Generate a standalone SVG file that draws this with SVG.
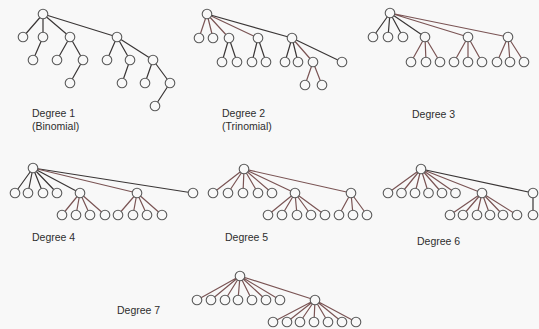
<svg xmlns="http://www.w3.org/2000/svg" width="539" height="329" viewBox="0 0 539 329">
<style>
.k{stroke:#3a3636;stroke-width:1.2;fill:none}
.r{stroke:#7a5454;stroke-width:1.2;fill:none}
circle{fill:#f8f8f8;stroke:#5a5a5a;stroke-width:1.1}
text{font-family:"Liberation Sans",Arial,sans-serif;font-size:10.5px;fill:#2e2e2e}
</style>
<rect width="539" height="329" fill="#f8f8f8"/>
<g id="connectors">
<!-- Degree 1 -->
<path class="k" d="M43,14L23,37M43,14L43,37M43,14L70,37M43,14L117,37M43,37L33,60M70,37L57,60M70,37L83,60M83,60L70,83M117,37L107,60M117,37L130,60M117,37L153,60M130,60L122,83M153,60L145,83M153,60L170,83M170,83L155,106"/>
<!-- Degree 2 -->
<path class="r" d="M207,14L199,38M207,14L213,38M207,14L229,38M207,14L258,38"/>
<path class="k" d="M207,14L292,38M229,38L222,62M229,38L237,62M258,38L252,62M258,38L266,62M292,38L285,62M292,38L298,62M292,38L342,62"/>
<path class="r" d="M292,38L313,62M313,62L305,85M313,62L322,85"/>
<!-- Degree 3 -->
<path class="k" d="M390,13L373,37M390,13L388,37M390,13L403,37M390,13L425,37"/>
<path class="r" d="M390,13L468,37M390,13L508,37M425,37L411,62M425,37L426,62M425,37L440,62M468,37L454,62M468,37L468,62M468,37L482,62M508,37L497,62M508,37L510,62M508,37L524,62"/>
<!-- Degree 4 -->
<path class="k" d="M33,168L15,193M33,168L28,193M33,168L43,193M33,168L57,193M33,168L80,193M33,168L193,193"/>
<path class="r" d="M33,168L137,193M80,193L62,215M80,193L76,215M80,193L90,215M80,193L105,215M137,193L118,215M137,193L133,215M137,193L147,215M137,193L162,215"/>
<!-- Degree 5 -->
<path class="r" d="M244,169L213,193M244,169L228,193M244,169L243,193M244,169L258,193M244,169L272,193M244,169L295,193M244,169L351,193M295,193L268,215M295,193L282,215M295,193L297,215M295,193L311,215M295,193L325,215M351,193L339,215M351,193L353,215M351,193L367,215"/>
<!-- Degree 6 -->
<path class="r" d="M421,169L388,193M421,169L401.5,193M421,169L415,193M421,169L428.5,193M421,169L442,193M421,169L455.5,193M421,169L482,193M482,193L450,215M482,193L463,215M482,193L477,215M482,193L490,215M482,193L503,215M482,193L517,215"/>
<path class="k" d="M421,169L533,193M533,193L533,215"/>
<!-- Degree 7 -->
<path class="r" d="M240,276L197,300M240,276L211,300M240,276L225,300M240,276L238,300M240,276L252,300M240,276L266,300M240,276L280,300M240,276L315,300M315,300L273,322M315,300L287,322M315,300L300,322M315,300L314,322M315,300L328,322M315,300L342,322M315,300L356,322"/>
</g>
<g id="d1-root"><circle cx="43" cy="14" r="4.8"/></g>
<g id="d1-a"><circle cx="23" cy="37" r="4.8"/></g>
<g id="d1-b"><circle cx="43" cy="37" r="4.8"/></g>
<g id="d1-c"><circle cx="70" cy="37" r="4.8"/></g>
<g id="d1-d"><circle cx="117" cy="37" r="4.8"/></g>
<g id="d1-b1"><circle cx="33" cy="60" r="4.8"/></g>
<g id="d1-c1"><circle cx="57" cy="60" r="4.8"/></g>
<g id="d1-c2"><circle cx="83" cy="60" r="4.8"/></g>
<g id="d1-c2a"><circle cx="70" cy="83" r="4.8"/></g>
<g id="d1-d1"><circle cx="107" cy="60" r="4.8"/></g>
<g id="d1-d2"><circle cx="130" cy="60" r="4.8"/></g>
<g id="d1-d3"><circle cx="153" cy="60" r="4.8"/></g>
<g id="d1-d2a"><circle cx="122" cy="83" r="4.8"/></g>
<g id="d1-d3a"><circle cx="145" cy="83" r="4.8"/></g>
<g id="d1-d3b"><circle cx="170" cy="83" r="4.8"/></g>
<g id="d1-d3b1"><circle cx="155" cy="106" r="4.8"/></g>
<g id="d1-label"><text x="32" y="117">Degree 1</text><text x="32" y="130">(Binomial)</text></g>

<g id="d2-root"><circle cx="207" cy="14" r="4.8"/></g>
<g id="d2-a"><circle cx="199" cy="38" r="4.8"/></g>
<g id="d2-b"><circle cx="213" cy="38" r="4.8"/></g>
<g id="d2-c"><circle cx="229" cy="38" r="4.8"/></g>
<g id="d2-d"><circle cx="258" cy="38" r="4.8"/></g>
<g id="d2-e"><circle cx="292" cy="38" r="4.8"/></g>
<g id="d2-c1"><circle cx="222" cy="62" r="4.8"/></g>
<g id="d2-c2"><circle cx="237" cy="62" r="4.8"/></g>
<g id="d2-d1"><circle cx="252" cy="62" r="4.8"/></g>
<g id="d2-d2"><circle cx="266" cy="62" r="4.8"/></g>
<g id="d2-e1"><circle cx="285" cy="62" r="4.8"/></g>
<g id="d2-e2"><circle cx="298" cy="62" r="4.8"/></g>
<g id="d2-e3"><circle cx="313" cy="62" r="4.8"/></g>
<g id="d2-e4"><circle cx="342" cy="62" r="4.8"/></g>
<g id="d2-e3a"><circle cx="305" cy="85" r="4.8"/></g>
<g id="d2-e3b"><circle cx="322" cy="85" r="4.8"/></g>
<g id="d2-label"><text x="222" y="117">Degree 2</text><text x="222" y="130">(Trinomial)</text></g>

<g id="d3-root"><circle cx="390" cy="13" r="4.8"/></g>
<g id="d3-a"><circle cx="373" cy="37" r="4.8"/></g>
<g id="d3-b"><circle cx="388" cy="37" r="4.8"/></g>
<g id="d3-c"><circle cx="403" cy="37" r="4.8"/></g>
<g id="d3-d"><circle cx="425" cy="37" r="4.8"/></g>
<g id="d3-e"><circle cx="468" cy="37" r="4.8"/></g>
<g id="d3-f"><circle cx="508" cy="37" r="4.8"/></g>
<g id="d3-d1"><circle cx="411" cy="62" r="4.8"/></g>
<g id="d3-d2"><circle cx="426" cy="62" r="4.8"/></g>
<g id="d3-d3"><circle cx="440" cy="62" r="4.8"/></g>
<g id="d3-e1"><circle cx="454" cy="62" r="4.8"/></g>
<g id="d3-e2"><circle cx="468" cy="62" r="4.8"/></g>
<g id="d3-e3"><circle cx="482" cy="62" r="4.8"/></g>
<g id="d3-f1"><circle cx="497" cy="62" r="4.8"/></g>
<g id="d3-f2"><circle cx="510" cy="62" r="4.8"/></g>
<g id="d3-f3"><circle cx="524" cy="62" r="4.8"/></g>
<g id="d3-label"><text x="412" y="118">Degree 3</text></g>

<g id="d4-root"><circle cx="33" cy="168" r="4.8"/></g>
<g id="d4-a"><circle cx="15" cy="193" r="4.8"/></g>
<g id="d4-b"><circle cx="28" cy="193" r="4.8"/></g>
<g id="d4-c"><circle cx="43" cy="193" r="4.8"/></g>
<g id="d4-d"><circle cx="57" cy="193" r="4.8"/></g>
<g id="d4-e"><circle cx="80" cy="193" r="4.8"/></g>
<g id="d4-f"><circle cx="137" cy="193" r="4.8"/></g>
<g id="d4-g"><circle cx="193" cy="193" r="4.8"/></g>
<g id="d4-e1"><circle cx="62" cy="215" r="4.8"/></g>
<g id="d4-e2"><circle cx="76" cy="215" r="4.8"/></g>
<g id="d4-e3"><circle cx="90" cy="215" r="4.8"/></g>
<g id="d4-e4"><circle cx="105" cy="215" r="4.8"/></g>
<g id="d4-f1"><circle cx="118" cy="215" r="4.8"/></g>
<g id="d4-f2"><circle cx="133" cy="215" r="4.8"/></g>
<g id="d4-f3"><circle cx="147" cy="215" r="4.8"/></g>
<g id="d4-f4"><circle cx="162" cy="215" r="4.8"/></g>
<g id="d4-label"><text x="32" y="241">Degree 4</text></g>

<g id="d5-root"><circle cx="244" cy="169" r="4.8"/></g>
<g id="d5-a"><circle cx="213" cy="193" r="4.8"/></g>
<g id="d5-b"><circle cx="228" cy="193" r="4.8"/></g>
<g id="d5-c"><circle cx="243" cy="193" r="4.8"/></g>
<g id="d5-d"><circle cx="258" cy="193" r="4.8"/></g>
<g id="d5-e"><circle cx="272" cy="193" r="4.8"/></g>
<g id="d5-f"><circle cx="295" cy="193" r="4.8"/></g>
<g id="d5-g"><circle cx="351" cy="193" r="4.8"/></g>
<g id="d5-f1"><circle cx="268" cy="215" r="4.8"/></g>
<g id="d5-f2"><circle cx="282" cy="215" r="4.8"/></g>
<g id="d5-f3"><circle cx="297" cy="215" r="4.8"/></g>
<g id="d5-f4"><circle cx="311" cy="215" r="4.8"/></g>
<g id="d5-f5"><circle cx="325" cy="215" r="4.8"/></g>
<g id="d5-g1"><circle cx="339" cy="215" r="4.8"/></g>
<g id="d5-g2"><circle cx="353" cy="215" r="4.8"/></g>
<g id="d5-g3"><circle cx="367" cy="215" r="4.8"/></g>
<g id="d5-label"><text x="225" y="241">Degree 5</text></g>

<g id="d6-root"><circle cx="421" cy="169" r="4.8"/></g>
<g id="d6-a"><circle cx="388" cy="193" r="4.8"/></g>
<g id="d6-b"><circle cx="401.5" cy="193" r="4.8"/></g>
<g id="d6-c"><circle cx="415" cy="193" r="4.8"/></g>
<g id="d6-d"><circle cx="428.5" cy="193" r="4.8"/></g>
<g id="d6-e"><circle cx="442" cy="193" r="4.8"/></g>
<g id="d6-f"><circle cx="455.5" cy="193" r="4.8"/></g>
<g id="d6-g"><circle cx="482" cy="193" r="4.8"/></g>
<g id="d6-h"><circle cx="533" cy="193" r="4.8"/></g>
<g id="d6-g1"><circle cx="450" cy="215" r="4.8"/></g>
<g id="d6-g2"><circle cx="463" cy="215" r="4.8"/></g>
<g id="d6-g3"><circle cx="477" cy="215" r="4.8"/></g>
<g id="d6-g4"><circle cx="490" cy="215" r="4.8"/></g>
<g id="d6-g5"><circle cx="503" cy="215" r="4.8"/></g>
<g id="d6-g6"><circle cx="517" cy="215" r="4.8"/></g>
<g id="d6-h1"><circle cx="533" cy="215" r="4.8"/></g>
<g id="d6-label"><text x="417" y="245">Degree 6</text></g>

<g id="d7-root"><circle cx="240" cy="276" r="4.8"/></g>
<g id="d7-a"><circle cx="197" cy="300" r="4.8"/></g>
<g id="d7-b"><circle cx="211" cy="300" r="4.8"/></g>
<g id="d7-c"><circle cx="225" cy="300" r="4.8"/></g>
<g id="d7-d"><circle cx="238" cy="300" r="4.8"/></g>
<g id="d7-e"><circle cx="252" cy="300" r="4.8"/></g>
<g id="d7-f"><circle cx="266" cy="300" r="4.8"/></g>
<g id="d7-g"><circle cx="280" cy="300" r="4.8"/></g>
<g id="d7-h"><circle cx="315" cy="300" r="4.8"/></g>
<g id="d7-h1"><circle cx="273" cy="322" r="4.8"/></g>
<g id="d7-h2"><circle cx="287" cy="322" r="4.8"/></g>
<g id="d7-h3"><circle cx="300" cy="322" r="4.8"/></g>
<g id="d7-h4"><circle cx="314" cy="322" r="4.8"/></g>
<g id="d7-h5"><circle cx="328" cy="322" r="4.8"/></g>
<g id="d7-h6"><circle cx="342" cy="322" r="4.8"/></g>
<g id="d7-h7"><circle cx="356" cy="322" r="4.8"/></g>
<g id="d7-label"><text x="117" y="314">Degree 7</text></g>
</svg>
